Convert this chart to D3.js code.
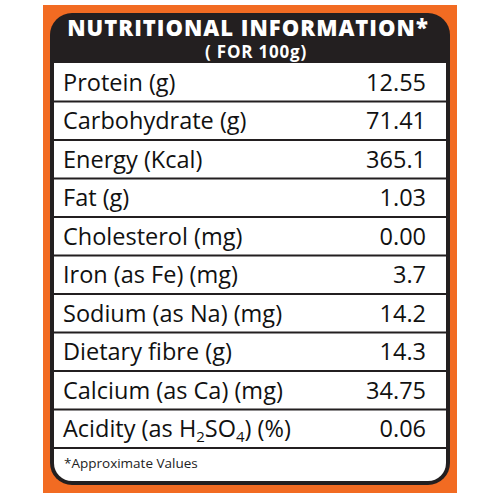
<!DOCTYPE html>
<html><head><meta charset="utf-8">
<script src="https://cdn.jsdelivr.net/npm/d3@7"></script>
<style>body{margin:0;background:#fff}</style>
</head><body>
<svg width="500" height="500"></svg>
<script>
let labels = ['Protein (g)', 'Carbohydrate (g)', 'Energy (Kcal)', 'Fat (g)', 'Cholesterol (mg)',
    'Iron (as Fe) (mg)', 'Sodium (as Na) (mg)', 'Dietary fibre (g)', 'Calcium (as Ca) (mg)', 'ACID'];
let values = ['12.55', '71.41', '365.1', '1.03', '0.00', '3.7', '14.2', '14.3', '34.75', '0.06'];
let title = 'NUTRITIONAL INFORMATION*';
let subtitle = '( FOR 100g)';
let footnote = '*Approximate Values';

let svg = d3.select('svg');
let font = 'Open Sans, sans-serif';

svg.append('rect').attr('x', 43).attr('y', 5).attr('width', 414).attr('height', 488).attr('fill', '#f26b22');
svg.append('rect').attr('x', 50).attr('y', 13).attr('width', 400).attr('height', 472).attr('rx', 22).attr('fill', '#231f20');
svg.append('rect').attr('x', 54).attr('y', 63).attr('width', 392).attr('height', 418).attr('rx', 18).attr('fill', '#fff');
svg.append('rect').attr('x', 54).attr('y', 63).attr('width', 392).attr('height', 40).attr('fill', '#fff');

svg.append('text').attr('x', 248).attr('y', 36).attr('text-anchor', 'middle')
    .attr('font-family', font).attr('font-weight', 800).attr('font-size', 22)
    .attr('fill', '#fff').attr('letter-spacing', 1).text(title);
svg.append('text').attr('x', 256).attr('y', 58).attr('text-anchor', 'middle')
    .attr('font-family', font).attr('font-weight', 700).attr('font-size', 17)
    .attr('fill', '#fff').attr('letter-spacing', 0.8).text(subtitle);

let y = d3.scaleBand().domain(labels).range([63, 448]);

let rows = svg.selectAll('g.row').data(labels).enter().append('g')
    .attr('transform', d => `translate(0,${y(d)})`);
rows.append('line').attr('x1', 54).attr('x2', 446).attr('y1', y.bandwidth()).attr('y2', y.bandwidth())
    .attr('stroke', '#231f20').attr('stroke-width', 2);
let lab = rows.append('text').attr('x', 63).attr('y', y.bandwidth() / 2 + 8.5)
    .attr('font-family', font).attr('font-size', 23.5).attr('fill', '#111');
lab.filter(d => d !== 'ACID').text(d => d);
let acid = lab.filter(d => d === 'ACID');
acid.append('tspan').text('Acidity (as H');
acid.append('tspan').attr('font-size', 15).attr('dy', 5).text('2');
acid.append('tspan').attr('dy', -5).text('SO');
acid.append('tspan').attr('font-size', 15).attr('dy', 5).text('4');
acid.append('tspan').attr('dy', -5).text(') (%)');
rows.append('text').attr('x', 426).attr('y', y.bandwidth() / 2 + 8.5).attr('text-anchor', 'end')
    .attr('font-family', font).attr('font-size', 23.5).attr('fill', '#111')
    .text((d, i) => values[i]);

svg.append('text').attr('x', 64).attr('y', 468).attr('font-family', font).attr('font-size', 13.5)
    .attr('fill', '#222').text(footnote);
</script>
</body></html>
